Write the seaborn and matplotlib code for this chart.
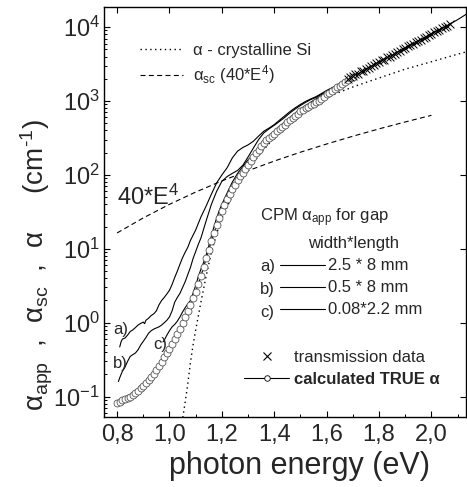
import matplotlib
matplotlib.use("Agg")
import matplotlib.pyplot as plt
from matplotlib.lines import Line2D
from matplotlib.ticker import FuncFormatter, LogLocator, MultipleLocator
import seaborn as sns

# --- data (photon energy in eV, alpha in cm^-1) ---
true_E = [0.80, 0.81, 0.82, 0.83, 0.84, 0.85, 0.86, 0.87, 0.88, 0.89,
          0.90, 0.91, 0.92, 0.93, 0.94, 0.95, 0.96, 0.97, 0.98, 0.99,
          1.00, 1.01, 1.02, 1.03, 1.04, 1.05, 1.06, 1.07, 1.08, 1.09,
          1.10, 1.11, 1.12, 1.13, 1.14, 1.15, 1.16, 1.17, 1.18, 1.19,
          1.20, 1.21, 1.22, 1.23, 1.24, 1.25, 1.26, 1.27, 1.28, 1.29,
          1.30, 1.31, 1.32, 1.33, 1.34, 1.35, 1.36, 1.37, 1.38, 1.39,
          1.40, 1.41, 1.42, 1.43, 1.44, 1.45, 1.46, 1.47, 1.48, 1.49,
          1.50, 1.51, 1.52, 1.53, 1.54, 1.55, 1.56, 1.57, 1.58, 1.59,
          1.60, 1.61, 1.62, 1.63, 1.64, 1.65, 1.66, 1.67, 1.68, 1.69,
          1.70, 1.75, 1.80, 1.85, 1.90, 1.95, 2.00, 2.05, 2.10, 2.135]
true_alpha = [0.0813, 0.0851, 0.0891, 0.0933, 0.0955, 0.100, 0.105, 0.112, 0.120, 0.129,
              0.138, 0.151, 0.166, 0.182, 0.204, 0.229, 0.257, 0.295, 0.339, 0.389,
              0.447, 0.513, 0.603, 0.708, 0.832, 1.00, 1.20, 1.45, 1.74, 2.14,
              2.63, 3.31, 4.27, 5.62, 7.41, 9.77, 12.6, 16.2, 20.9, 26.3,
              32.4, 38.9, 46.8, 55.0, 64.6, 74.1, 85.1, 95.5, 107, 120,
              135, 155, 174, 195, 219, 245, 269, 295, 316, 339,
              363, 389, 417, 447, 479, 513, 550, 589, 631, 676,
              724, 759, 794, 832, 871, 912, 955, 1000, 1070, 1150,
              1230, 1290, 1380, 1450, 1550, 1620, 1700, 1820, 1910, 2040,
              2140, 2690, 3390, 4170, 5250, 6460, 8130, 10000, 12600, 15100]
n_circles = 91  # circles drawn up to 1.70 eV, line only beyond

trans_E = [1.68, 1.69, 1.70, 1.71, 1.72, 1.73, 1.74, 1.75, 1.76, 1.77,
           1.78, 1.79, 1.80, 1.81, 1.82, 1.83, 1.84, 1.85, 1.86, 1.87,
           1.88, 1.89, 1.90, 1.91, 1.92, 1.93, 1.94, 1.95, 1.96, 1.97,
           1.98, 1.99, 2.00, 2.01, 2.02, 2.03, 2.04, 2.05, 2.06, 2.07]
trans_alpha = [2000, 2090, 2190, 2290, 2340, 2510, 2570, 2690, 2820, 2950,
               3090, 3240, 3390, 3550, 3630, 3890, 3980, 4170, 4370, 4570,
               4790, 5010, 5250, 5500, 5750, 5890, 6310, 6460, 6760, 7080,
               7410, 7760, 8130, 8510, 8910, 9120, 9770, 10000, 10500, 11000]

csi_E = [1.048, 1.06, 1.07, 1.08, 1.09, 1.10, 1.12, 1.14, 1.16, 1.18, 1.20, 1.25,
         1.30, 1.35, 1.40, 1.45, 1.50, 1.55, 1.60, 1.70, 1.80, 1.90, 2.00, 2.10, 2.14]
csi_alpha = [0.045, 0.085, 0.15, 0.29, 0.50, 0.80, 1.9, 4.3, 9.0, 16, 26, 62,
             120, 200, 320, 470, 650, 870, 1120, 1550, 2050, 2700, 3400, 4300, 4700]

sc_E = [0.80, 0.90, 1.00, 1.10, 1.20, 1.30, 1.40, 1.50, 1.60, 1.70, 1.80, 1.90, 2.00]
sc_alpha = [16.4, 26.2, 40.0, 58.6, 82.9, 114, 154, 203, 262, 334, 420, 521, 640]

a_E = [0.81, 0.815, 0.82, 0.83, 0.84, 0.85, 0.86, 0.87, 0.88, 0.89, 0.90, 0.905,
       0.91, 0.92, 0.93, 0.94, 0.95, 0.96, 0.97, 0.98, 0.99, 1.00, 1.01, 1.02,
       1.03, 1.04, 1.05, 1.06, 1.07, 1.08, 1.10, 1.12, 1.14, 1.16, 1.18, 1.20,
       1.22, 1.24, 1.26, 1.28, 1.30, 1.32, 1.34, 1.36, 1.38, 1.40, 1.42, 1.44,
       1.46, 1.48, 1.50, 1.52, 1.54, 1.56, 1.58, 1.60, 1.62, 1.64, 1.66, 1.68, 1.70]
a_alpha = [0.47, 0.55, 0.60, 0.62, 0.68, 0.76, 0.80, 0.86, 0.93, 0.98, 1.02, 0.97,
           1.08, 1.15, 1.25, 1.32, 1.45, 1.75, 2.0, 2.2, 2.45, 2.75, 3.3, 4.1,
           5.0, 6.2, 7.6, 9.0, 10.5, 13, 18, 27, 38, 55, 78, 100,
           125, 170, 210, 235, 255, 285, 335, 390, 430, 480, 550, 630,
           720, 810, 900, 990, 1070, 1150, 1260, 1390, 1510, 1620, 1750, 1900, 2050]

b_E = [0.805, 0.81, 0.82, 0.83, 0.84, 0.85, 0.86, 0.87, 0.88, 0.89, 0.90, 0.91,
       0.92, 0.93, 0.94, 0.95, 0.96, 0.97, 0.98, 0.99, 1.00, 1.01, 1.02, 1.03,
       1.04, 1.05, 1.06, 1.07, 1.08, 1.09, 1.10, 1.11, 1.12, 1.14, 1.16, 1.18,
       1.20, 1.22, 1.24, 1.26, 1.28, 1.30, 1.32, 1.34, 1.36, 1.38, 1.40, 1.42,
       1.44, 1.46, 1.48, 1.50, 1.52, 1.54, 1.56, 1.58, 1.60, 1.62, 1.64, 1.66,
       1.68, 1.70]
b_alpha = [0.16, 0.18, 0.22, 0.25, 0.30, 0.35, 0.37, 0.39, 0.43, 0.50, 0.56, 0.63,
           0.72, 0.78, 0.82, 0.85, 0.88, 0.93, 1.0, 1.08, 1.2, 1.45, 1.9, 2.2,
           2.5, 3.0, 3.6, 4.5, 5.6, 7.4, 9.2, 11.5, 14, 24, 40, 60,
           82, 95, 105, 115, 135, 175, 230, 300, 370, 420, 470, 530,
           600, 690, 780, 870, 960, 1050, 1120, 1230, 1350, 1480, 1600, 1720,
           1850, 2000]

c_E = [0.975, 0.98, 0.99, 1.00, 1.01, 1.02, 1.03, 1.04, 1.05, 1.06, 1.07, 1.08,
       1.09, 1.10, 1.11, 1.12, 1.13, 1.14, 1.15, 1.16, 1.17, 1.18, 1.19, 1.20,
       1.22, 1.24, 1.26, 1.28, 1.30, 1.32, 1.34, 1.36, 1.38, 1.40, 1.45, 1.50,
       1.55, 1.60, 1.65, 1.70]
c_alpha = [0.55, 0.58, 0.68, 0.78, 0.88, 0.95, 1.05, 1.2, 1.4, 1.6, 1.8, 2.0,
           2.5, 3.2, 4.2, 5.3, 6.5, 8.2, 11, 15, 20, 26, 33, 40,
           57, 80, 105, 130, 160, 190, 230, 280, 330, 390, 560, 780,
           1020, 1300, 1680, 2100]

cpm_labels = ["2.5 * 8 mm", "0.5 * 8 mm", "0.08*2.2 mm"]
curve_tags = ["a)", "b)", "c)"]

# --- style ---
sns.set_theme(style="ticks")
plt.rcParams["font.family"] = ["Liberation Sans", "DejaVu Sans"]
plt.rcParams["mathtext.fontset"] = "custom"
plt.rcParams["mathtext.rm"] = "Liberation Sans"
plt.rcParams["mathtext.it"] = "Liberation Sans:italic"
plt.rcParams["mathtext.bf"] = "Liberation Sans:bold"

fig = plt.figure(figsize=(4.67, 4.87), dpi=100)
ax = fig.add_axes([0.2227, 0.1437, 0.7752, 0.8419])

lw = 0.8
sns.lineplot(x=csi_E, y=csi_alpha, ax=ax, color="black", lw=1.0,
             linestyle=(0, (1, 2.5)), sort=False, estimator=None)
sns.lineplot(x=sc_E, y=sc_alpha, ax=ax, color="black", lw=lw,
             linestyle=(0, (4.5, 3)), sort=False, estimator=None)
for xs, ys in [(a_E, a_alpha), (b_E, b_alpha), (c_E, c_alpha)]:
    sns.lineplot(x=xs, y=ys, ax=ax, color="black", lw=lw, sort=False, estimator=None)
sns.lineplot(x=true_E, y=true_alpha, ax=ax, color="black", lw=lw, sort=False,
             estimator=None, marker="o", markersize=5, markerfacecolor="white",
             markeredgecolor="#555555", markeredgewidth=0.6,
             markevery=list(range(n_circles)))
sns.scatterplot(x=trans_E, y=trans_alpha, ax=ax, marker="x", color="black",
                s=32, linewidth=0.7, zorder=5)

ax.set_yscale("log")
ax.set_xlim(0.75, 2.132)
ax.set_ylim(0.053, 18700)

# ticks
ax.xaxis.set_major_locator(MultipleLocator(0.2))
ax.xaxis.set_minor_locator(MultipleLocator(0.1))
ax.xaxis.set_major_formatter(FuncFormatter(lambda v, p: f"{v:.1f}".replace(".", ",")))
ax.yaxis.set_major_locator(LogLocator(base=10, numticks=10))
ax.yaxis.set_minor_locator(LogLocator(base=10, subs=range(2, 10), numticks=10))
ax.tick_params(which="major", direction="in", length=4.5, width=0.8,
               top=True, right=True, color="black")
ax.tick_params(which="minor", direction="in", length=2.5, width=0.7,
               top=False, right=False, color="black")
ax.tick_params(axis="x", which="major", labelsize=17, pad=5)
ax.tick_params(axis="y", which="major", labelsize=17, pad=3)
ax.tick_params(axis="y", which="minor", labelleft=False)
for sp in ax.spines.values():
    sp.set_color("black")
    sp.set_linewidth(1.0)

ax.set_xlabel("photon energy (eV)", fontsize=22)
ax.xaxis.set_label_coords(0.54, -0.083)
ax.set_ylabel("α$_{\\rm app}$  ,  α$_{\\rm sc}$  ,  α     (cm$^{\\text{-1}}$)", fontsize=20)
ax.yaxis.set_label_coords(-0.135, 0.37)

# legend for the reference curves
h1 = [Line2D([], [], color="black", lw=1.0, linestyle=(0, (1, 2.5))),
      Line2D([], [], color="black", lw=lw, linestyle=(0, (4.5, 3)))]
leg1 = ax.legend(h1, ["α - crystalline Si", "α$_{\\rm sc}$ (40*E$^{4}$)"],
                 loc="upper left", bbox_to_anchor=(0.099, 0.912), frameon=False,
                 fontsize=12, handlelength=2.6, handletextpad=0.6,
                 borderpad=0, borderaxespad=0, labelspacing=0.3)
ax.add_artist(leg1)

# CPM block
ax.text(0.431, 0.485, "CPM α$_{\\rm app}$ for gap", transform=ax.transAxes,
        fontsize=12, ha="left", va="center")
ax.text(0.688, 0.424, "width*length", transform=ax.transAxes,
        fontsize=12, ha="center", va="center")
h2 = [Line2D([], [], color="black", lw=lw) for _ in cpm_labels]
leg2 = ax.legend(h2, cpm_labels, loc="upper left", bbox_to_anchor=(0.486, 0.387),
                 frameon=False, fontsize=12, handlelength=2.7, handletextpad=0.2,
                 borderpad=0, borderaxespad=0, labelspacing=0.42)
ax.add_artist(leg2)
for tag, ty in zip(curve_tags, [0.366, 0.310, 0.256]):
    ax.text(0.431, ty, tag, transform=ax.transAxes, fontsize=12, ha="left", va="center")

# transmission / true alpha legend
h3 = [Line2D([], [], color="black", marker="x", linestyle="none", markersize=6,
             markeredgewidth=0.8),
      Line2D([], [], color="black", lw=lw, marker="o", markersize=4,
             markerfacecolor="white", markeredgewidth=0.6)]
leg3 = ax.legend(h3, ["transmission data", "calculated TRUE α"], loc="upper left",
                 bbox_to_anchor=(0.388, 0.163), frameon=False, fontsize=12,
                 handlelength=2.7, handletextpad=0.3, borderpad=0, borderaxespad=0,
                 labelspacing=0.42)
leg3.get_texts()[1].set_fontweight("bold")

# curve annotations
ax.text(0.80, 50, "40*E$^{4}$", fontsize=17, ha="left", va="center")
ax.text(0.785, 0.80, curve_tags[0], fontsize=12, ha="left", va="center")
ax.text(0.785, 0.285, curve_tags[1], fontsize=12, ha="left", va="center")
ax.text(0.937, 0.50, curve_tags[2], fontsize=12, ha="left", va="center")

fig.savefig("out.png", dpi=100)
